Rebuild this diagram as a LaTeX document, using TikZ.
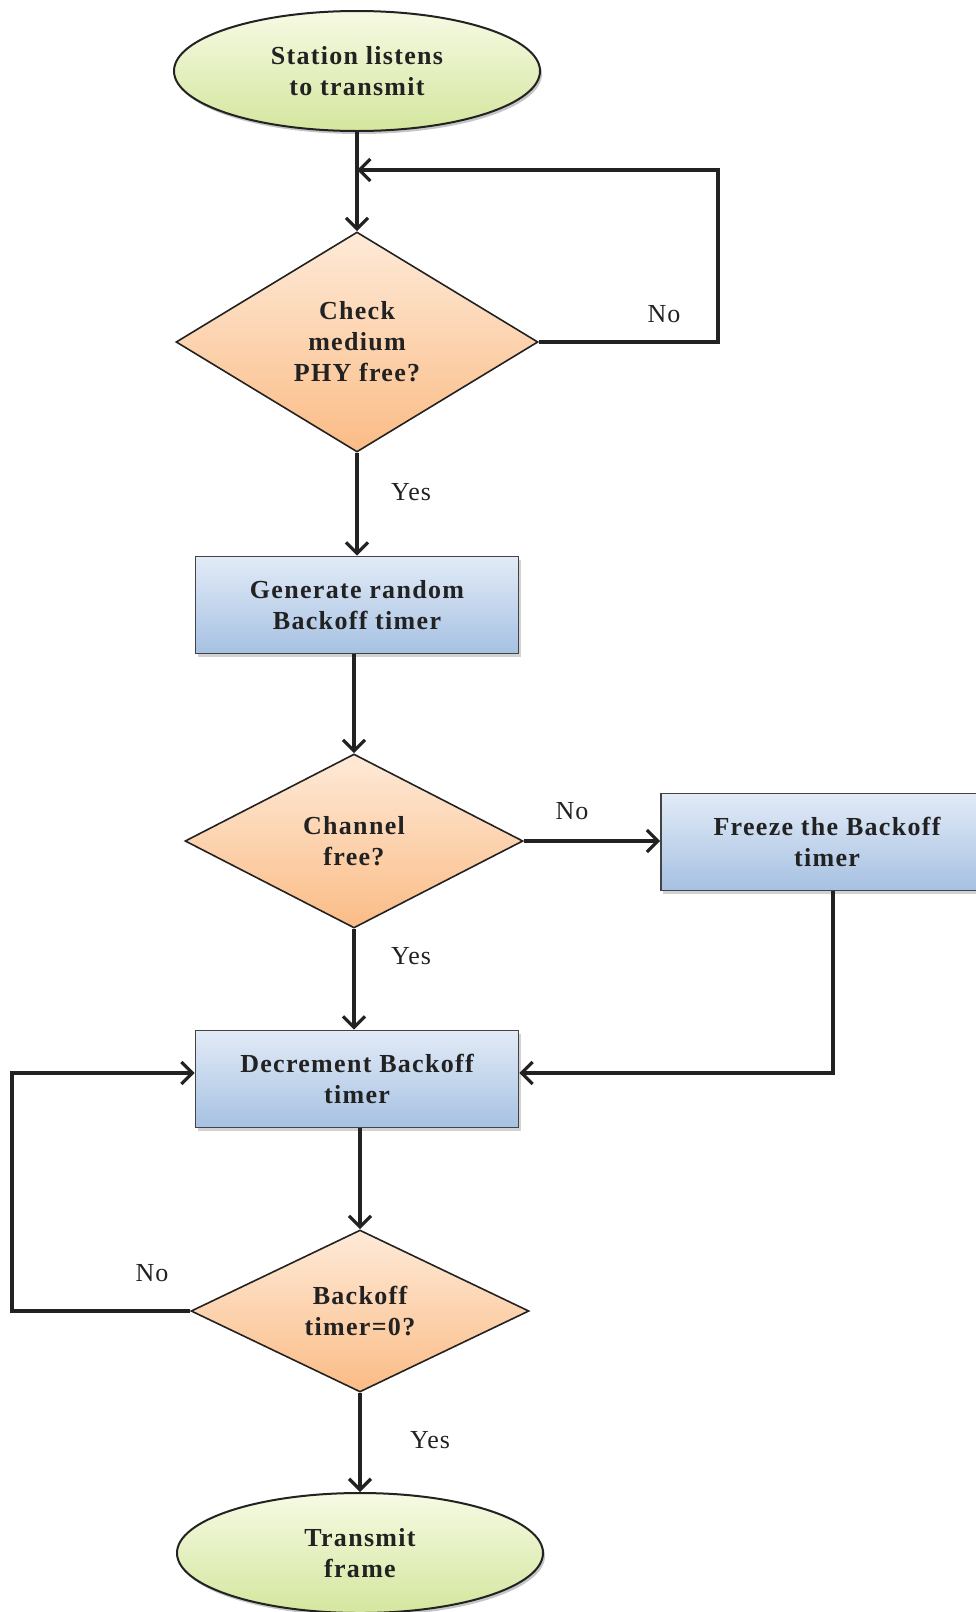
\documentclass[tikz,border=0pt]{standalone}
\usepackage{fontspec}
\setmainfont{Liberation Serif}
\usetikzlibrary{shapes.geometric,arrows.meta,shadows}
\definecolor{ellTop}{RGB}{246,250,228}
\definecolor{ellBot}{RGB}{212,230,158}
\definecolor{decTop}{RGB}{254,234,216}
\definecolor{decBot}{RGB}{251,188,134}
\definecolor{boxTop}{RGB}{226,235,247}
\definecolor{boxBot}{RGB}{166,193,226}
\definecolor{ink}{RGB}{34,34,34}
\newcommand{\boldtxt}{\fontsize{26}{31}\selectfont\bfseries\addfontfeatures{LetterSpace=5}}
\newcommand{\lbltxt}{\fontsize{26}{30}\selectfont\addfontfeatures{LetterSpace=4}}
\begin{document}
\begin{tikzpicture}[x=1pt,y=-1pt,
  term/.style={ellipse, draw=ink, line width=2pt, top color=ellTop, bottom color=ellBot,
    minimum width=366pt, minimum height=120pt, inner sep=0pt, align=center, text=ink,
    font=\boldtxt,
    drop shadow={shadow xshift=2pt, shadow yshift=-3pt, fill=black!45}},
  dec/.style={diamond, draw=ink, line width=1.6pt, top color=decTop, bottom color=decBot,
    inner sep=0pt, align=center, text=ink, font=\boldtxt},
  proc/.style={rectangle, draw=ink!85, line width=1.8pt, top color=boxTop, bottom color=boxBot,
    minimum height=97pt, inner sep=0pt, align=center, text=ink,
    font=\boldtxt,
    drop shadow={shadow xshift=2pt, shadow yshift=-3pt, fill=black!35}},
  flow/.style={line width=3.2pt, draw=ink, -{Straight Barb[length=11pt,width=22pt]}},
  lbl/.style={font=\lbltxt, text=ink}]
\useasboundingbox (0,0) rectangle (976,1612);

\node[term] (start) at (357,71) {Station listens\\to transmit};
\node[dec, minimum width=362pt, minimum height=220pt] (d1) at (357,342) {Check\\medium\\PHY free?};
\node[proc, minimum width=323pt] (b1) at (357,605) {Generate random\\Backoff timer};
\node[dec, minimum width=338pt, minimum height=174pt] (d2) at (354,841) {Channel\\free?};
\node[proc, minimum width=332pt] (fz) at (827,842) {Freeze the Backoff\\timer};
\node[proc, minimum width=323pt] (b2) at (357,1079) {Decrement Backoff\\timer};
\node[dec, minimum width=338pt, minimum height=162pt] (d3) at (360,1311) {Backoff\\timer=0?};
\node[term] (end) at (360,1553) {Transmit\\frame};

\coordinate (r1) at (718,170);
\coordinate (l3) at (12,1311);
\coordinate (fzd) at (833,891);

\draw[flow] (start.south) -- (d1.north);
\draw[flow] (d1.east) -| (r1) -- (r1 -| start.south);
\draw[flow] (d1.south) -- (b1.north);
\draw[flow] (b1.south -| d2.north) -- (d2.north);
\draw[flow] (d2.east) -- (d2.east -| fz.west);
\draw[flow] (fzd) |- ([yshift=6pt]b2.east);
\draw[flow] (d2.south) -- (d2.south |- b2.north);
\draw[flow] (b2.south -| d3.north) -- (d3.north);
\draw[flow] (d3.west) -- (l3) |- ([yshift=6pt]b2.west);
\draw[flow] (d3.south) -- (end.north);

\node[lbl] (n1) at (664,314) {No};
\node[lbl] (y1) at (411,492) {Yes};
\node[lbl] (n2) at (572,811) {No};
\node[lbl] (y2) at (411,956) {Yes};
\node[lbl] (n3) at (152,1273) {No};
\node[lbl] (y3) at (430,1440) {Yes};
\end{tikzpicture}
\end{document}
